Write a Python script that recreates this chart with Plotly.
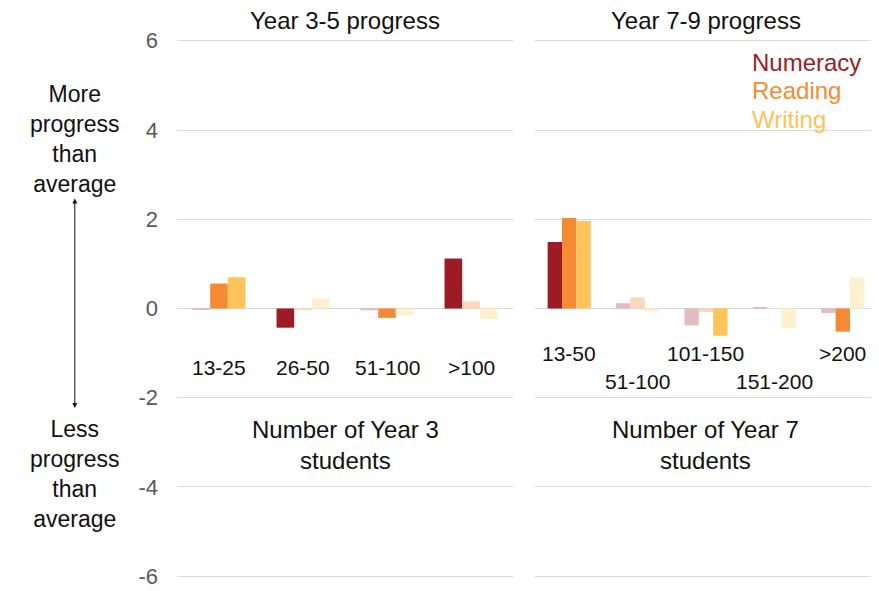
import plotly.graph_objects as go
from plotly.subplots import make_subplots

# -- Data --
y3_groups = ["13-25", "26-50", "51-100", ">100"]
y3_numeracy = [-0.03, -0.43, -0.04, 1.12]
y3_reading = [0.56, -0.03, -0.21, 0.16]
y3_writing = [0.70, 0.22, -0.15, -0.24]
y3_numeracy_sig = [False, True, False, True]
y3_reading_sig = [True, False, True, False]
y3_writing_sig = [True, False, False, False]

y7_groups = ["13-50", "51-100", "101-150", "151-200", ">200"]
y7_numeracy = [1.49, 0.12, -0.38, 0.03, -0.10]
y7_reading = [2.03, 0.25, -0.08, 0.01, -0.52]
y7_writing = [1.96, -0.07, -0.61, -0.44, 0.69]
y7_numeracy_sig = [True, False, False, False, False]
y7_reading_sig = [True, False, False, False, True]
y7_writing_sig = [True, False, True, False, False]

y_ticks = [-6, -4, -2, 0, 2, 4, 6]

# full colour = significant, pale = not significant
colours = {
    "Numeracy": ("#9e1b23", "#e3bcc0"),
    "Reading": ("#f58a35", "#fbd8bb"),
    "Writing": ("#fec35a", "#fff0cf"),
}

SANS = "Liberation Sans, Arial"
INK = "#111111"

fig = make_subplots(rows=1, cols=2, shared_yaxes=True)


def add_panel(groups, series, col):
    for name, vals, sig in series:
        full, pale = colours[name]
        fig.add_trace(go.Bar(x=groups, y=vals, name=name,
                             marker=dict(color=[full if s else pale for s in sig],
                                         line=dict(width=0)),
                             showlegend=False, hoverinfo="x+y+name"),
                      row=1, col=col)


add_panel(y3_groups, [("Numeracy", y3_numeracy, y3_numeracy_sig),
                      ("Reading", y3_reading, y3_reading_sig),
                      ("Writing", y3_writing, y3_writing_sig)], 1)
add_panel(y7_groups, [("Numeracy", y7_numeracy, y7_numeracy_sig),
                      ("Reading", y7_reading, y7_reading_sig),
                      ("Writing", y7_writing, y7_writing_sig)], 2)

fig.update_xaxes(showticklabels=False, showgrid=False, showline=False, ticks="")
fig.update_xaxes(domain=[0, 0.48], row=1, col=1)
fig.update_xaxes(domain=[0.5114, 1], row=1, col=2)
# range padded a touch so the +/-6 gridlines are drawn
fig.update_yaxes(range=[-6.04, 6.04], tickvals=y_ticks, ticktext=[str(t) for t in y_ticks],
                 showgrid=True, gridcolor="#d9d9d9",
                 zeroline=True, zerolinecolor="#d4d4d4", zerolinewidth=1,
                 showline=False, ticks="")
fig.update_yaxes(tickfont=dict(family=SANS, size=22, color="#595959"),
                 ticklabelstandoff=18, ticklabeloverflow="allow", row=1, col=1)

ann = []

# category labels under the zero line (staggered for the Year 7 panel)
for g in y3_groups:
    ann.append(dict(x=g, y=-1.33, xref="x", yref="y", text=g, showarrow=False,
                    font=dict(family=SANS, size=21, color=INK)))
for i, g in enumerate(y7_groups):
    ann.append(dict(x=g, y=-1.0 if i % 2 == 0 else -1.64, xref="x2", yref="y2", text=g,
                    showarrow=False, font=dict(family=SANS, size=21, color=INK)))

# panel titles
for dom, txt in [("x domain", "Year 3-5 progress"), ("x2 domain", "Year 7-9 progress")]:
    ann.append(dict(x=0.5, y=1.035, xref=dom, yref="paper", text=txt, showarrow=False,
                    xanchor="center", yanchor="middle",
                    font=dict(family=SANS, size=24, color=INK)))

# axis titles
for dom, txt in [("x domain", "Number of Year 3<br>students"),
                 ("x2 domain", "Number of Year 7<br>students")]:
    ann.append(dict(x=0.5, y=0.246, xref=dom, yref="paper", text=txt, showarrow=False,
                    xanchor="center", yanchor="middle",
                    font=dict(family=SANS, size=24, color=INK)))

# legend as coloured text
for i, name in enumerate(["Numeracy", "Reading", "Writing"]):
    ann.append(dict(x=0.819, y=0.957 - i * 0.053, xref="paper", yref="paper", text=name,
                    showarrow=False, xanchor="left", yanchor="middle",
                    font=dict(family=SANS, size=24, color=colours[name][0])))

# left side explanation
ann.append(dict(x=-0.146, y=0.815, xref="paper", yref="paper",
                text="More<br>progress<br>than<br>average", showarrow=False,
                xanchor="center", yanchor="middle",
                font=dict(family=SANS, size=23, color=INK)))
ann.append(dict(x=-0.146, y=0.193, xref="paper", yref="paper",
                text="Less<br>progress<br>than<br>average", showarrow=False,
                xanchor="center", yanchor="middle",
                font=dict(family=SANS, size=23, color=INK)))
ann.append(dict(x=-0.146, y=0.704, xref="paper", yref="paper", text="",
                showarrow=True, ax=0, ay=211, arrowhead=2, startarrowhead=2,
                arrowside="end+start", arrowsize=1, arrowwidth=1, arrowcolor=INK,
                standoff=0, startstandoff=0))

# page body has an 8px margin, so the figure is 8px smaller each way
fig.update_layout(
    width=871, height=583,
    margin=dict(l=169, r=2, t=31, b=8),
    plot_bgcolor="white", paper_bgcolor="white",
    barmode="group", bargap=0.37, bargroupgap=0,
    annotations=ann,
)

fig.write_html("out.html")
